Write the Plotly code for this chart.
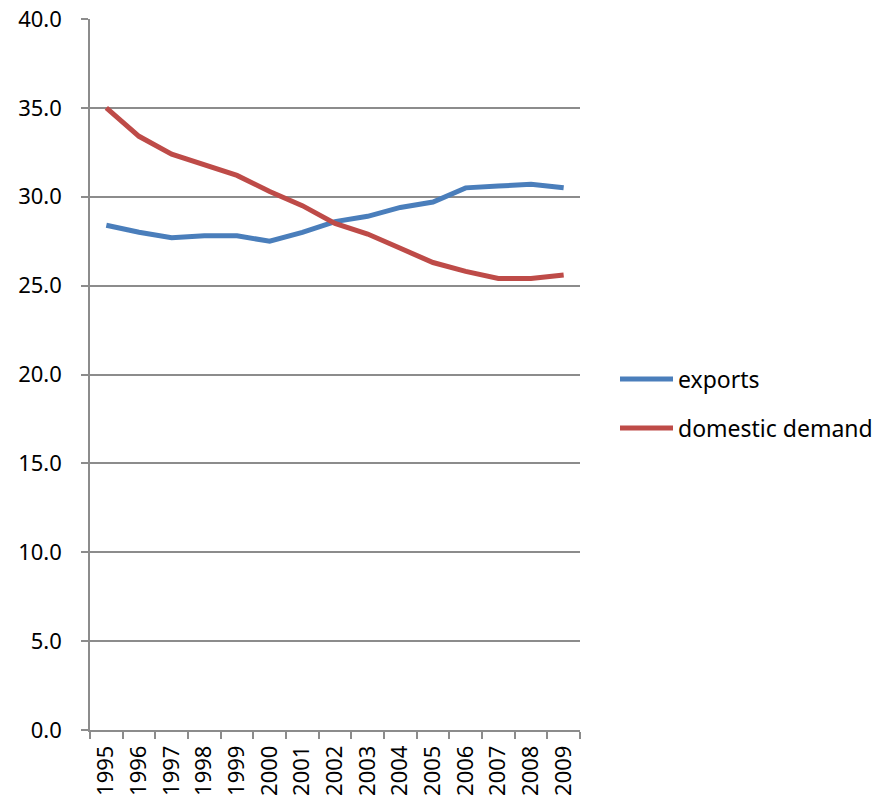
import plotly.graph_objects as go

years = [str(y) for y in range(1995, 2010)]
exports = [28.4, 28.0, 27.7, 27.8, 27.8, 27.5, 28.0, 28.6, 28.9, 29.4, 29.7, 30.5, 30.6, 30.7, 30.5]
domestic_demand = [35.0, 33.4, 32.4, 31.8, 31.2, 30.3, 29.5, 28.5, 27.9, 27.1, 26.3, 25.8, 25.4, 25.4, 25.6]
series_names = ["exports", "domestic demand"]
series_colors = ["#4A7EBB", "#BE4B48"]

FONT = "Noto Sans"
GRID = "#8C8C8C"

fig = go.Figure()
for name, vals, col in zip(series_names, [exports, domestic_demand], series_colors):
    fig.add_trace(go.Scatter(
        x=years, y=vals, mode="lines", name=name,
        line=dict(color=col, width=5), showlegend=False,
    ))

# legend drawn beside the plot: a short line swatch plus the series name
L = 90.0
W = 490.0
B = 730.0
H = 711.0
def px(x):
    return (x - L) / W
def py(y):
    return (B - y) / H

legend_rows = [379, 428]
for name, col, yrow in zip(series_names, series_colors, legend_rows):
    fig.add_shape(type="line", xref="paper", yref="paper",
                  x0=px(620), x1=px(673), y0=py(yrow), y1=py(yrow),
                  line=dict(color=col, width=5))
    fig.add_annotation(xref="paper", yref="paper", x=px(676), y=py(yrow),
                       text=name, showarrow=False, xanchor="left", yanchor="middle",
                       font=dict(family=FONT, size=23, color="#000000"))

fig.update_layout(
    width=877, height=802,
    margin=dict(l=90, r=297, t=19, b=72),
    plot_bgcolor="white", paper_bgcolor="white",
    font=dict(family=FONT, size=22, color="#000000"),
    xaxis=dict(
        type="category", range=[-0.5, 14.5], tickson="boundaries",
        showgrid=False, showline=True, linecolor=GRID, linewidth=1.5,
        ticks="outside", ticklen=7, tickcolor=GRID, tickwidth=1.5,
        tickangle=-90, tickfont=dict(family=FONT, size=22),
        automargin=False, ticklabelstandoff=5,
    ),
    yaxis=dict(
        range=[0, 40], dtick=5, tickformat=".1f",
        showgrid=True, gridcolor=GRID, gridwidth=1.5,
        showline=True, linecolor=GRID, linewidth=1.5,
        ticks="outside", ticklen=7, tickcolor=GRID, tickwidth=1.5,
        zeroline=False, tickfont=dict(family=FONT, size=22),
        automargin=False, ticklabelstandoff=15,
    ),
)

fig.write_html("out.html")
